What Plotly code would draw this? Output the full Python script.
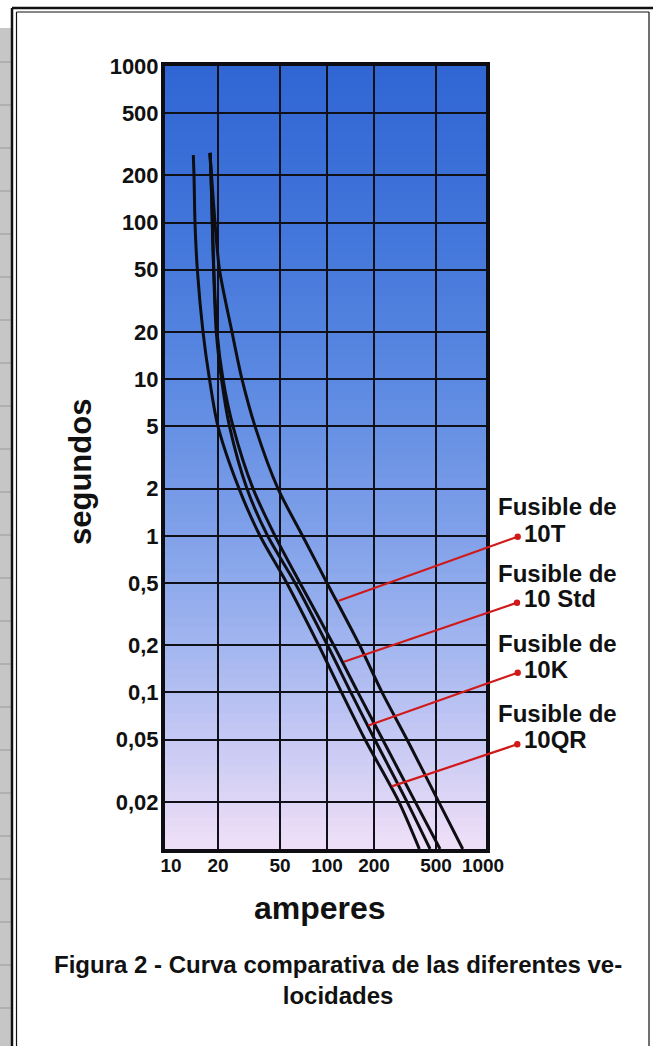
import math
import plotly.graph_objects as go

# ---------------- data ----------------
secs_grid = [200, 100, 50, 20, 10, 5, 2, 1, 0.5, 0.2, 0.1, 0.05, 0.02, 0.01]

amps_10QR = [13.9, 14.04, 14.25, 14.75, 16.04, 17.65, 20.0, 27.3, 37.2, 55.2, 88.4, 123.9, 175.2, 289, 390.6]
secs_10QR = [270] + secs_grid

amps_10K = [17.78, 18.05, 18.40, 18.76, 19.51, 21.08, 23.71, 30.7, 41.6, 62.4, 100.7, 142.1, 202.2, 325.7, 457.4]
secs_10K = [279] + secs_grid

amps_10Std = [17.78, 18.05, 18.40, 18.81, 19.72, 21.54, 24.97, 33.56, 46.4, 67.1, 110.4, 157.8, 227.2, 367.6, 530]
secs_10Std = [279] + secs_grid

amps_10T = [17.78, 18.18, 19.14, 20.46, 24.6, 28.5, 34.56, 48.5, 69.65, 100, 161.8, 225.3, 325.7, 520, 741]
secs_10T = [279] + secs_grid

fuse_names = ["10T", "10 Std", "10K", "10QR"]
# points on each curve where the red callout line touches (amperes, seconds)
callout_amps = [119, 128.5, 184, 260]
callout_secs = [0.385, 0.157, 0.0614, 0.0251]

x_tick_vals = [10, 20, 50, 100, 200, 500, 1000]
x_tick_text = ["10", "20", "50", "100", "200", "500", "1000"]
x_grid_vals = [20, 50, 100, 200, 500]
y_tick_vals = [0.02, 0.05, 0.1, 0.2, 0.5, 1, 2, 5, 10, 20, 50, 100, 200, 500, 1000]
y_tick_text = ["0,02", "0,05", "0,1", "0,2", "0,5", "1", "2", "5", "10", "20",
               "50", "100", "200", "500", "1000"]

x_title = "amperes"
y_title = "segundos"
caption = "Figura 2 - Curva comparativa de las diferentes ve-<br>locidades"

# ---------------- layout geometry ----------------
W_FIG, H_FIG = 653, 1046
M_L, M_R, M_T, M_B = 165, 167, 66, 197
PW = W_FIG - M_L - M_R
PH = H_FIG - M_T - M_B
X_RANGE = [0.9615, 3.019]
Y_RANGE = [-2, 3]
FONT = "Liberation Sans, Arial, Helvetica, sans-serif"


def px_x(px):
    return (px - M_L) / PW


def px_y(py):
    return (H_FIG - M_B - py) / PH


def data_x(a):
    return (math.log10(a) - X_RANGE[0]) / (X_RANGE[1] - X_RANGE[0])


def data_y(s):
    return (math.log10(s) - Y_RANGE[0]) / (Y_RANGE[1] - Y_RANGE[0])


fig = go.Figure()
for xs, ys in [(amps_10QR, secs_10QR), (amps_10K, secs_10K),
               (amps_10Std, secs_10Std), (amps_10T, secs_10T)]:
    fig.add_trace(go.Scatter(x=xs, y=ys, mode="lines",
                             line=dict(color="#0d0d12", width=3, shape="spline", smoothing=0.8),
                             showlegend=False, hoverinfo="skip"))

shapes = []
# background gradient
stops = [(0.0, (48, 102, 212)), (0.2, (64, 116, 218)), (0.4, (90, 136, 225)),
         (0.6, (127, 160, 233)), (0.75, (163, 182, 240)), (0.9, (208, 206, 245)),
         (1.0, (238, 223, 246))]


def grad(t):
    for (t0, c0), (t1, c1) in zip(stops[:-1], stops[1:]):
        if t0 <= t <= t1:
            f = (t - t0) / (t1 - t0)
            return "rgb(%d,%d,%d)" % tuple(round(a + (b - a) * f) for a, b in zip(c0, c1))
    return "rgb(%d,%d,%d)" % stops[-1][1]


N = 90
for i in range(N):
    top = 1 - i / N + (0.6 / N if i > 0 else 0)
    shapes.append(dict(type="rect", xref="x domain", yref="y domain", x0=0, x1=1,
                       y0=max(0, 1 - (i + 1) / N), y1=top,
                       fillcolor=grad((i + 0.5) / N), line=dict(width=0), layer="below"))

# page frame and grey strip on the left
shapes.append(dict(type="rect", xref="paper", yref="paper", x0=px_x(0), x1=px_x(11),
                   y0=px_y(1046), y1=px_y(28), fillcolor="#c6c6c6", line=dict(width=0), layer="below"))
for ry in range(62, 1046, 43):
    shapes.append(dict(type="line", xref="paper", yref="paper", x0=px_x(0), x1=px_x(11),
                       y0=px_y(ry), y1=px_y(ry), line=dict(color="#9a9a9a", width=1), layer="below"))
frame_lines = [
    (12, 8, 12, 1046, 2.5), (16.5, 12, 16.5, 1046, 1.2),
    (12, 8, 653, 8, 2.5), (16.5, 12, 649, 12, 1.2), (649, 12, 649, 1046, 1.2),
]
for x0, y0, x1, y1, w in frame_lines:
    shapes.append(dict(type="line", xref="paper", yref="paper", x0=px_x(x0), x1=px_x(x1),
                       y0=px_y(y0), y1=px_y(y1), line=dict(color="#111", width=w)))

# red callouts
dot_px = [(517.7, 536.7), (517.0, 602.7), (517.7, 672.7), (517.3, 744.3)]
for (dx, dy), a, s in zip(dot_px, callout_amps, callout_secs):
    shapes.append(dict(type="line", xref="paper", yref="paper",
                       x0=data_x(a), y0=data_y(s), x1=px_x(dx), y1=px_y(dy),
                       line=dict(color="#d01a1a", width=2.2)))
    shapes.append(dict(type="circle", xref="paper", yref="paper",
                       xsizemode="pixel", ysizemode="pixel",
                       xanchor=px_x(dx), yanchor=px_y(dy), x0=-3.2, x1=3.2, y0=-3.2, y1=3.2,
                       fillcolor="#d01a1a", line=dict(width=0)))

annotations = []
label_rows = [(506.7, 533.3), (573.3, 598.3), (643.3, 669.3), (713.3, 739.3)]
for name, (r1, r2) in zip(fuse_names, label_rows):
    annotations.append(dict(text="Fusible de", xref="paper", yref="paper", x=px_x(496), y=px_y(r1),
                            xanchor="left", yanchor="middle", showarrow=False,
                            font=dict(family=FONT, size=24, color="#111", weight=700)))
    annotations.append(dict(text=name, xref="paper", yref="paper", x=px_x(522), y=px_y(r2),
                            xanchor="left", yanchor="middle", showarrow=False,
                            font=dict(family=FONT, size=24, color="#111", weight=700)))

annotations.append(dict(text=y_title, xref="paper", yref="paper", x=px_x(80), y=px_y(472),
                        textangle=-90, xanchor="center", yanchor="middle", showarrow=False,
                        font=dict(family=FONT, size=31, color="#111", weight=900)))
annotations.append(dict(text=x_title, xref="paper", yref="paper", x=px_x(320), y=px_y(908),
                        xanchor="center", yanchor="middle", showarrow=False,
                        font=dict(family=FONT, size=32, color="#111", weight=900)))
annotations.append(dict(text=caption, xref="paper", yref="paper", x=px_x(338), y=px_y(980),
                        xanchor="center", yanchor="middle", showarrow=False, align="center",
                        font=dict(family=FONT, size=24, color="#111", weight=700)))

fig.update_layout(
    width=W_FIG, height=H_FIG,
    margin=dict(l=M_L, r=M_R, t=M_T, b=M_B, pad=0),
    paper_bgcolor="white", plot_bgcolor="rgba(0,0,0,0)",
    shapes=shapes, annotations=annotations, showlegend=False,
    xaxis=dict(type="log", range=X_RANGE, tickmode="array", tickvals=x_tick_vals,
               ticktext=x_tick_text, showgrid=False, ticks="", zeroline=False,
               showline=True, linecolor="#0d0d12", linewidth=4, mirror=True,
               ticklabelstandoff=-4,
               tickfont=dict(family=FONT, size=19, color="#111", weight=700),
               minor=dict(tickmode="array", tickvals=x_grid_vals, showgrid=True,
                          gridcolor="#101018", gridwidth=2, ticks="")),
    yaxis=dict(type="log", range=Y_RANGE, tickmode="array", tickvals=y_tick_vals,
               ticktext=y_tick_text, showgrid=True, gridcolor="#101018", gridwidth=2,
               ticks="", zeroline=False,
               showline=True, linecolor="#0d0d12", linewidth=4, mirror=True,
               ticklabelstandoff=-2,
               tickfont=dict(family=FONT, size=22, color="#111", weight=700)),
)

fig.write_html("out.html", config={"displayModeBar": False},
               post_script="document.body.style.margin='0';document.body.style.overflow='hidden';")
